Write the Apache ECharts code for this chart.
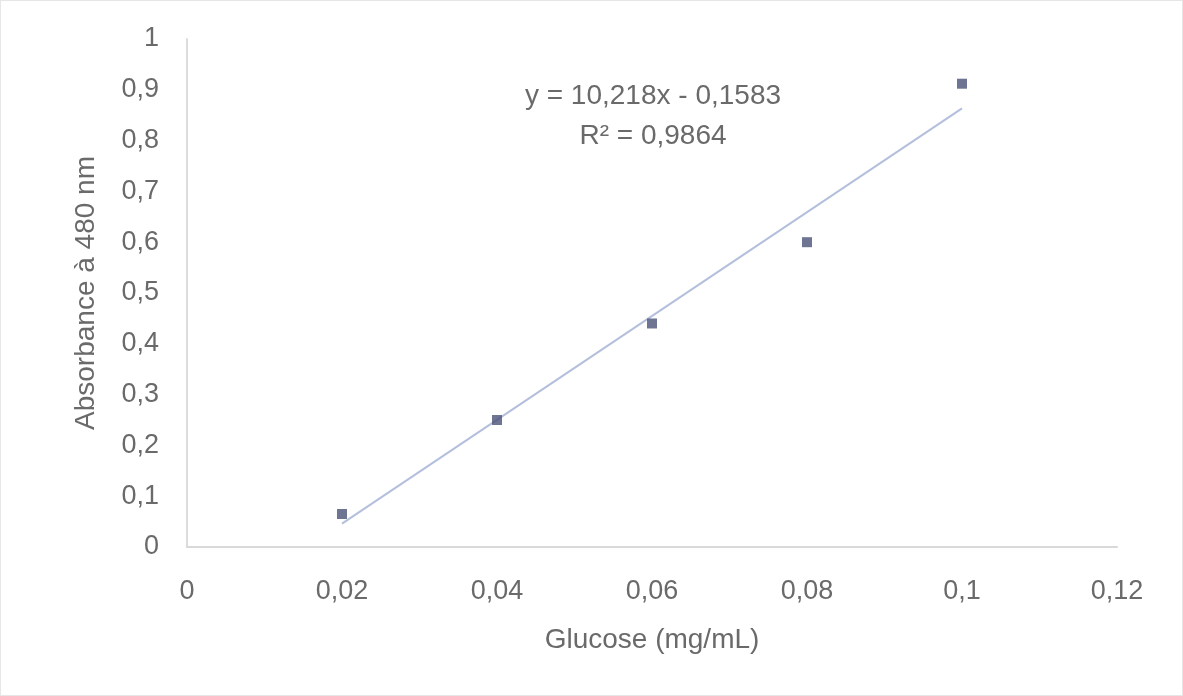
<!DOCTYPE html>
<html><head><meta charset="utf-8">
<script src="https://cdn.jsdelivr.net/npm/echarts@6/dist/echarts.min.js"></script>
<style>html,body{margin:0;padding:0;background:#fff}#c{width:1183px;height:696px;box-sizing:border-box;border:1px solid #e6e6e6}</style>
</head><body><div id="c"></div>
<script>
const glucose = [0.02, 0.04, 0.06, 0.08, 0.1];
const absorbance = [0.065, 0.25, 0.44, 0.60, 0.912];
const slope = 10.218, intercept = -0.1583;
const trendX = [0.02, 0.1];
const eqLines = ['y = 10,218x - 0,1583', 'R² = 0,9864'];
const fmt = v => String(+v.toFixed(2)).replace('.', ',');
const chart = echarts.init(document.getElementById('c'));
const txt = '#6a6a6a', font = 'Liberation Sans';
chart.setOption({
  animation: false,
  grid: {left: 186, right: 65, top: 38, bottom: 148},
  xAxis: {type: 'value', min: 0, max: 0.12, interval: 0.02,
    name: 'Glucose (mg/mL)', nameLocation: 'middle', nameGap: 79,
    nameTextStyle: {color: txt, fontSize: 28, fontFamily: font},
    axisLine: {lineStyle: {color: '#d9d9d9', width: 2}}, axisTick: {show: false}, splitLine: {show: false},
    axisLabel: {color: txt, fontSize: 27, fontFamily: font, margin: 31, formatter: fmt}},
  yAxis: {type: 'value', min: 0, max: 1, interval: 0.1,
    name: 'Absorbance à 480 nm', nameLocation: 'middle', nameGap: 87,
    nameTextStyle: {color: txt, fontSize: 28, fontFamily: font},
    axisLine: {show: true, lineStyle: {color: '#dcdcdc', width: 2}}, axisTick: {show: false}, splitLine: {show: false},
    axisLabel: {color: txt, fontSize: 27, fontFamily: font, margin: 28, formatter: fmt}},
  series: [
    {type: 'line', data: trendX.map(x => [x, slope * x + intercept]), symbol: 'none',
     lineStyle: {color: '#b3bfdc', width: 2}, z: 1},
    {type: 'scatter', data: glucose.map((x, i) => [x, absorbance[i]]), symbol: 'rect', symbolSize: 10,
     itemStyle: {color: '#4a5278'}, z: 3}
  ],
  graphic: [
    {type: 'text', x: 652, y: 95, style: {text: eqLines[0], fill: txt, font: '28px Liberation Sans', align: 'center', verticalAlign: 'middle'}},
    {type: 'text', x: 652, y: 135, style: {text: eqLines[1], fill: txt, font: '28px Liberation Sans', align: 'center', verticalAlign: 'middle'}}
  ]
});
</script></body></html>
